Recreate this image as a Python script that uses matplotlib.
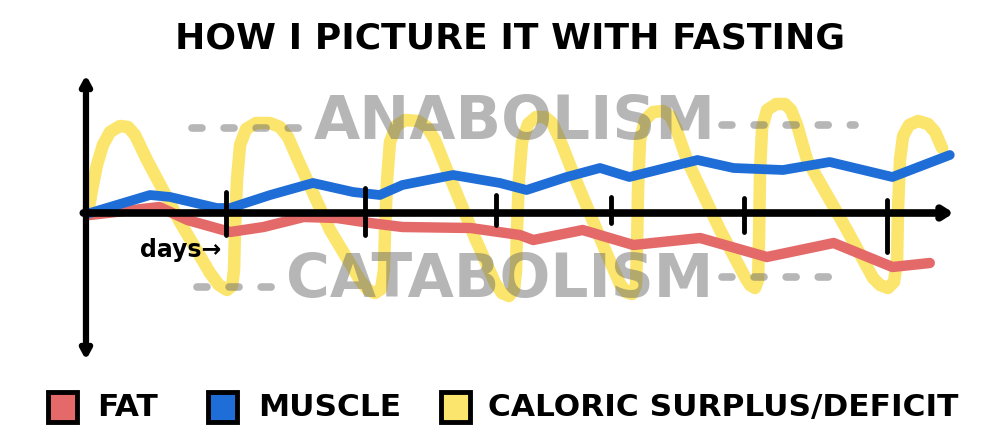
import matplotlib
matplotlib.use("Agg")
import matplotlib.pyplot as plt
from matplotlib.patches import Rectangle
from matplotlib.lines import Line2D

# ---------------- data ----------------
title = "HOW I PICTURE IT WITH FASTING"
series_labels = ["FAT", "MUSCLE", "CALORIC SURPLUS/DEFICIT"]
zone_labels = ["ANABOLISM", "CATABOLISM"]
axis_label = "days\u2192"

tick_days = [1.05, 2.09, 3.07, 3.93, 4.93, 6.00]

muscle_x = [0.03, 0.48, 0.63, 0.98, 1.08, 1.38, 1.70, 2.00, 2.20, 2.37, 2.75,
            3.10, 3.30, 3.60, 3.85, 4.07, 4.58, 4.85, 5.22, 5.57, 6.04, 6.47]
muscle_y = [0.0, 1.8, 1.6, 0.5, 0.5, 1.8, 3.0, 2.1, 1.8, 2.8, 3.8,
            3.0, 2.3, 3.6, 4.5, 3.6, 5.3, 4.5, 4.3, 5.1, 3.6, 5.8]

fat_x = [0.03, 0.55, 0.76, 1.08, 1.33, 1.63, 1.88, 2.13, 2.37, 2.88, 3.25,
         3.35, 3.72, 4.10, 4.60, 5.10, 5.60, 6.04, 6.32]
fat_y = [-0.2, 0.6, -0.7, -1.9, -1.4, -0.4, -0.5, -1.0, -1.4, -1.5, -2.2,
         -2.7, -1.7, -3.2, -2.5, -4.4, -3.0, -5.4, -5.0]

caloric_x = [0.015, 0.045, 0.082, 0.127, 0.180, 0.255, 0.315, 0.367, 0.457,
             0.704, 0.929, 0.996, 1.056, 1.094, 1.109, 1.116, 1.131, 1.154,
             1.199, 1.273, 1.378, 1.453, 1.513, 1.588, 1.828, 2.052, 2.112,
             2.165, 2.210, 2.232, 2.240, 2.255, 2.277, 2.322, 2.390, 2.487,
             2.554, 2.614, 2.689, 2.914, 3.064, 3.116, 3.169, 3.206, 3.221,
             3.228, 3.243, 3.266, 3.311, 3.371, 3.438, 3.491, 3.551, 3.663,
             3.888, 4.000, 4.045, 4.090, 4.120, 4.127, 4.135, 4.150, 4.187,
             4.247, 4.322, 4.375, 4.419, 4.502, 4.749, 4.936, 4.974, 5.011,
             5.034, 5.041, 5.049, 5.064, 5.101, 5.169, 5.236, 5.281, 5.326,
             5.401, 5.700, 5.895, 5.948, 6.007, 6.052, 6.075, 6.082, 6.097,
             6.120, 6.165, 6.232, 6.307, 6.360, 6.412]
caloric_y = [0.0, 2.3, 4.8, 6.8, 8.1, 8.7, 8.6, 7.8, 5.3,
             -0.9, -6.0, -7.2, -7.7, -7.3, -5.7, -1.7, 3.3, 6.8,
             8.4, 9.0, 9.0, 8.6, 7.6, 5.3, -1.7, -6.7, -7.7,
             -8.0, -7.6, -5.7, -1.7, 3.3, 7.1, 8.7, 9.3, 9.2,
             8.6, 7.3, 4.8, -2.5, -7.0, -8.0, -8.3, -7.7, -5.7,
             -1.7, 3.3, 7.1, 8.9, 9.6, 9.6, 9.0, 7.3, 3.5,
             -3.7, -7.1, -7.9, -8.1, -7.2, -3.7, 2.3, 7.3, 9.3,
             10.1, 10.2, 9.7, 8.5, 5.3, -1.7, -6.4, -7.2, -7.5,
             -6.7, -2.7, 4.3, 8.5, 10.3, 10.9, 10.9, 10.3, 8.8,
             5.3, -1.7, -6.5, -7.2, -7.5, -6.9, -4.7, 0.3, 5.3,
             7.7, 8.8, 9.2, 8.9, 8.1, 6.5]

# ---------------- style ----------------
C_FAT = "#e46a6a"
C_MUSCLE = "#1f6dd6"
C_CAL = "#fce56c"
C_GREY = "#6e6e6e"

fig = plt.figure(figsize=(10, 4.48), dpi=100)
ax = fig.add_axes([0, 0, 1, 1])
ax.set_xlim(-0.644, 6.846)
ax.set_ylim(-23.5, 21.3)
ax.axis("off")

# yellow oscillation
ax.plot(caloric_x, caloric_y, color=C_CAL, lw=9, solid_joinstyle="round",
        solid_capstyle="round", zorder=1)

# grey zone words and dashes
fig.text(0.515, 0.726, zone_labels[0], fontsize=43, fontweight="bold",
         color=C_GREY, alpha=0.5, ha="center", va="center", zorder=2)
fig.text(0.500, 0.373, zone_labels[1], fontsize=43, fontweight="bold",
         color=C_GREY, alpha=0.5, ha="center", va="center", zorder=2)
for (x0, x1, yy) in [(0.192, 0.300, 0.714), (0.722, 0.855, 0.721),
                     (0.197, 0.290, 0.359), (0.722, 0.850, 0.382)]:
    fig.add_artist(Line2D([x0, x1], [yy, yy], transform=fig.transFigure,
                          color=C_GREY, alpha=0.5, lw=5.5,
                          linestyle=(0, (1.3, 2.9)), dash_capstyle="round",
                          zorder=2))

# fat and muscle
ax.plot(fat_x, fat_y, color=C_FAT, lw=7.5, solid_joinstyle="round",
        solid_capstyle="round", zorder=3)
ax.plot(muscle_x, muscle_y, color=C_MUSCLE, lw=7.0, solid_joinstyle="round",
        solid_capstyle="round", zorder=4)

# axes drawn as arrows
ax.annotate("", xy=(6.5, 0), xytext=(-0.02, 0),
            arrowprops=dict(arrowstyle="->,head_length=0.55,head_width=0.35",
                            lw=5.5, color="black", shrinkA=0, shrinkB=0),
            zorder=5)
ax.annotate("", xy=(0, 13.8), xytext=(0, -14.7),
            arrowprops=dict(arrowstyle="<->,head_length=0.55,head_width=0.3",
                            lw=4.5, color="black", shrinkA=0, shrinkB=0),
            zorder=5)
tick_extent = [(2.1, -2.2), (2.5, -2.2), (1.8, -1.2), (1.6, -1.0), (1.5, -1.9), (1.3, -3.9)]
for t, (top, bot) in zip(tick_days, tick_extent):
    ax.plot([t, t], [bot, top], color="black", lw=3.5, solid_capstyle="round", zorder=6)

fig.text(0.140, 0.442, axis_label, fontsize=17, fontweight="bold",
         color="black", ha="left", va="center")

# title
fig.text(0.510, 0.915, title, fontsize=26, fontweight="bold", color="black",
         ha="center", va="center")

# legend
sq_x = [0.048, 0.208, 0.441]
txt_x = [0.097, 0.258, 0.488]
colors = [C_FAT, C_MUSCLE, C_CAL]
for sx, tx, col, lab in zip(sq_x, txt_x, colors, series_labels):
    fig.add_artist(Rectangle((sx, 0.058), 0.029, 0.066, transform=fig.transFigure,
                             facecolor=col, edgecolor="black", lw=3.5))
    fig.text(tx, 0.0915, lab, fontsize=22.5, fontweight="bold", color="black",
             ha="left", va="center")

fig.savefig("out.png", dpi=100)
